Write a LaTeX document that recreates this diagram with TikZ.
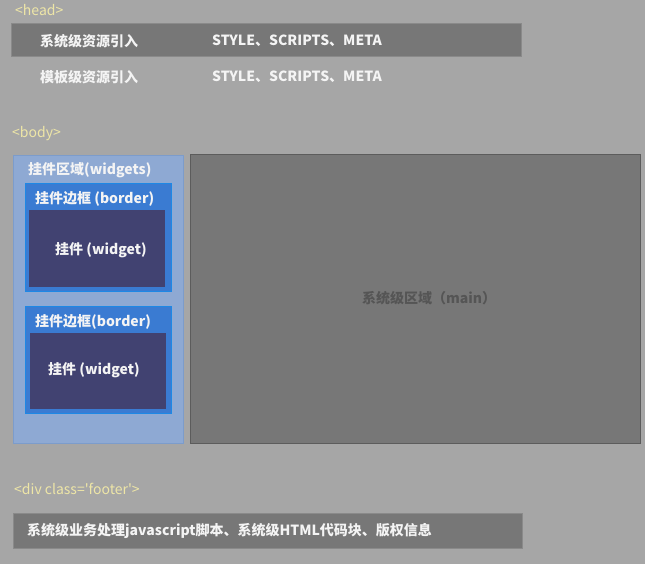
\documentclass[tikz,border=0pt]{standalone}
\usepackage{fontspec}
\setmainfont{Noto Sans CJK SC}
\usetikzlibrary{positioning}
\definecolor{pageGray}{HTML}{A6A6A6}
\definecolor{barGray}{HTML}{777777}
\definecolor{barEdge}{HTML}{8A8A8A}
\definecolor{mainEdge}{HTML}{5C5C5C}
\definecolor{mainText}{HTML}{555555}
\definecolor{tagYellow}{HTML}{EEE6A6}
\definecolor{zoneBlue}{HTML}{8EA9D3}
\definecolor{zoneEdge}{HTML}{7C9CCB}
\definecolor{frameBlue}{HTML}{3A7BD2}
\definecolor{frameEdge}{HTML}{1E88E5}
\definecolor{widgetInk}{HTML}{414271}
\definecolor{labelWhite}{HTML}{F4F4F4}

\begin{document}
\begin{tikzpicture}[x=1pt, y=-1pt,
		box/.style = {anchor = north west, inner sep = 0pt, outer sep = 0pt},
		tag/.style = {anchor = west, inner sep = 0pt, text = tagYellow, font = \fontsize{14}{16}\selectfont},
		txt/.style = {anchor = west, inner sep = 0pt, text = labelWhite, font = \fontsize{14}{16}\selectfont\bfseries}]
			\fill[pageGray] (0,0) rectangle (645,564);
			\useasboundingbox (0,0) rectangle (645,564);
			
			\node[tag] (headtag) at (15,10) {<head>};
			\node[box, fill = barGray, draw = barEdge, minimum width = 510pt, minimum height = 33pt] (sysbar) at (11,23) {};
			\node[txt] (syslbl) at (40,41) {系统级资源引入};
			\node[txt] (sysres) at (212,41) {STYLE、SCRIPTS、META};
			\node[txt] (tpllbl) at (40,77) {模板级资源引入};
			\node[txt] (tplres) at (212,77) {STYLE、SCRIPTS、META};
			
			\node[tag] (bodytag) at (12,134) {<body>};
			\node[box, fill = zoneBlue, draw = zoneEdge, minimum width = 170pt, minimum height = 288pt] (widgets) at (13,155) {};
			\node[txt] (widgetslbl) at (28,170) {挂件区域(widgets)};
			
			\node[box, fill = frameBlue, draw = frameEdge, line width = 1pt, minimum width = 146pt, minimum height = 107pt] (borderA) at (25,184) {};
			\node[txt] (borderAlbl) at (35,199) {挂件边框 (border)};
			\node[box, fill = widgetInk, minimum width = 136pt, minimum height = 77pt] (widgetA) at (29,210) {};
			\node[txt] (widgetAlbl) at (55,250) {挂件 (widget)};
			
			\node[box, fill = frameBlue, draw = frameEdge, line width = 1pt, minimum width = 146pt, minimum height = 107pt] (borderB) at (25,306) {};
			\node[txt] (borderBlbl) at (35,322) {挂件边框(border)};
			\node[box, fill = widgetInk, minimum width = 136pt, minimum height = 76pt] (widgetB) at (30,333) {};
			\node[txt] (widgetBlbl) at (48,370) {挂件 (widget)};
			
			\node[box, fill = barGray, draw = mainEdge, line width = 1pt, minimum width = 450pt, minimum height = 288pt] (main) at (190,155) {};
			\node[txt, text = mainText] (mainlbl) at (362,298) {系统级区域（main）};
			
			\node[tag] (foottag) at (14,489) {<div class=\textquotesingle footer\textquotesingle>};
			\node[box, fill = barGray, draw = barEdge, minimum width = 509pt, minimum height = 35pt] (footbar) at (13,513) {};
			\node[txt] (footlbl) at (27,531) {系统级业务处理javascript脚本、系统级HTML代码块、版权信息};
		\end{tikzpicture}
\end{document}
